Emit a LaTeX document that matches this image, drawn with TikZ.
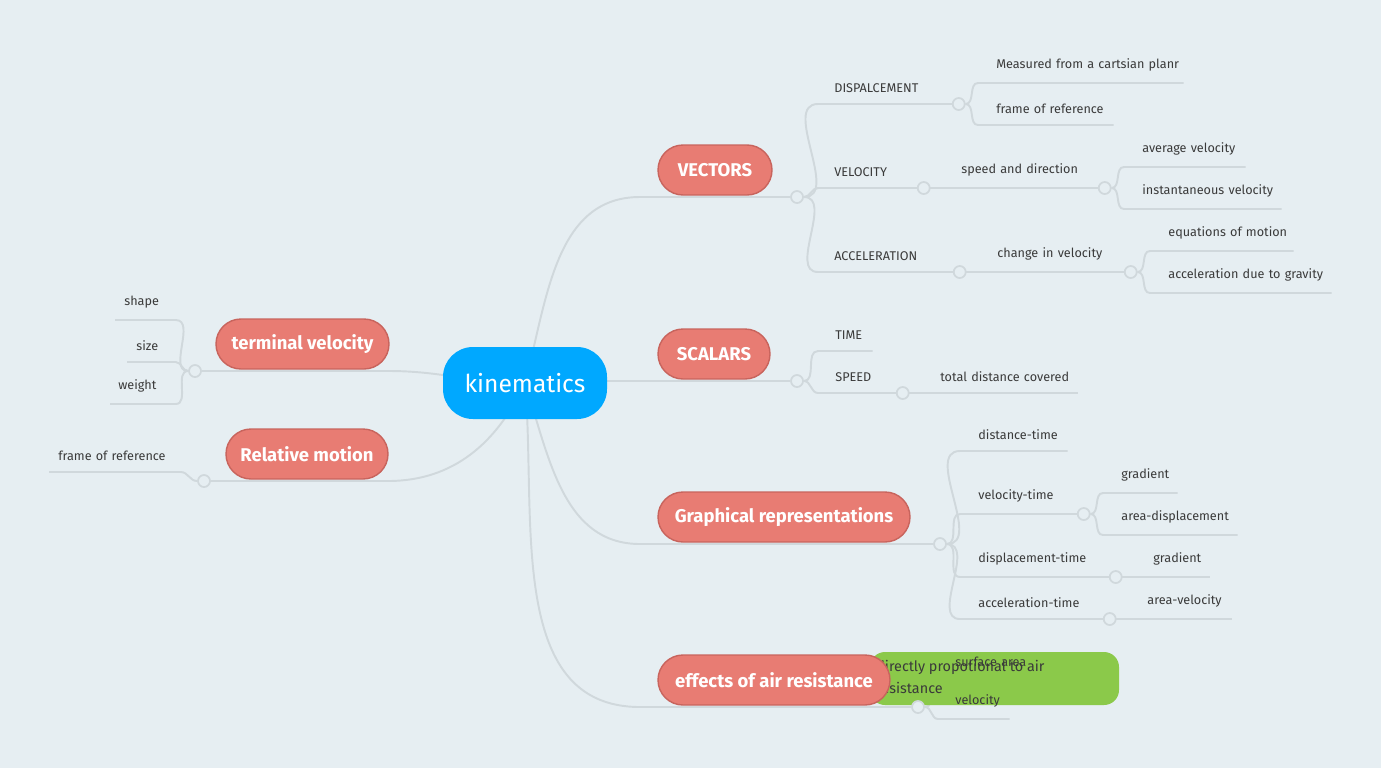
\documentclass[tikz,border=0pt]{standalone}
\usepackage{fontspec}
\setmainfont{Fira Sans}
\usetikzlibrary{positioning,backgrounds}
\definecolor{bgcol}{HTML}{E6EEF2}
\definecolor{linecol}{HTML}{D0D8DC}
\definecolor{redfill}{HTML}{E87C73}
\definecolor{redline}{HTML}{C8645D}
\definecolor{bluefill}{HTML}{00A8FF}
\definecolor{greenfill}{HTML}{8BC94A}
\definecolor{txtcol}{HTML}{3A3A3A}
\newdimen\px \px=0.02cm
\tikzset{
  branch/.style = {draw=linecol, line width=1.1pt},
  junc/.style = {circle, draw=linecol, fill=bgcol, line width=1pt, minimum size=12\px, inner sep=0},
  topic/.style = {draw=redline, fill=redfill, line width=0.8pt, rounded corners=0.5cm, text=white,
                  font=\fontsize{10.5}{12}\selectfont\bfseries, minimum height=50\px},
  leaf/.style = {anchor=south west, inner xsep=0, inner ysep=6.5pt, align=left, text=txtcol,
                 font=\fontsize{7.2}{8.5}\selectfont}
}
% name, line start x, line y, line end x, text x, text
\newcommand{\leaf}[6]{\node[leaf, text width=\the\dimexpr#4\px-#2\px\relax] (#1) at (#2,#3)
  {\hspace*{\the\dimexpr#5\px-#2\px\relax}\mbox{#6}};}
\begin{document}
\begin{tikzpicture}[x=0.02cm, y=-0.02cm]
  \useasboundingbox (0,0) rectangle (1381,768);

  % leaves
  \leaf{disp}{818}{104}{958}{834}{DISPALCEMENT}
  \leaf{vel}{818}{188}{923}{834}{VELOCITY}
  \leaf{acc}{818}{272}{959}{834}{ACCELERATION}
  \leaf{meas}{978}{83}{1183}{996}{Measured from a cartsian planr}
  \leaf{frame}{978}{125}{1113}{996}{frame of reference}
  \leaf{speeddir}{924}{188}{1104}{961}{speed and direction}
  \leaf{avg}{1124}{167}{1245}{1142}{average velocity}
  \leaf{inst}{1124}{209}{1281}{1142}{instantaneous velocity}
  \leaf{change}{960}{272}{1130}{997}{change in velocity}
  \leaf{eqn}{1150}{251}{1293}{1168}{equations of motion}
  \leaf{grav}{1150}{293}{1331}{1168}{acceleration due to gravity}
  \leaf{time}{818}{351}{872}{835}{TIME}
  \leaf{speed}{818}{393}{902}{835}{SPEED}
  \leaf{total}{903}{393}{1077}{940}{total distance covered}
  \leaf{dt}{960}{451}{1067}{978}{distance-time}
  \leaf{vt}{960}{514}{1083}{978}{velocity-time}
  \leaf{grad}{1103}{493}{1177}{1121}{gradient}
  \leaf{area}{1103}{535}{1237}{1121}{area-displacement}
  \leaf{disptime}{960}{577}{1115}{978}{displacement-time}
  \leaf{grad2}{1116}{577}{1209}{1153}{gradient}
  \leaf{acct}{960}{619}{1109}{978}{acceleration-time}
  \leaf{areav}{1110}{619}{1231}{1147}{area-velocity}
  \leaf{shape}{115}{320}{175}{124}{shape}
  \leaf{size}{127}{362}{175}{136}{size}
  \leaf{weight}{110}{404}{175}{118}{weight}
  \leaf{relframe}{49}{472}{180}{58}{frame of reference}

  % green note behind the red topic
  \node[fill=greenfill, rounded corners=0.3cm, minimum width=249\px, minimum height=53\px] (note) at (994.5,678.5) {};
  \node[anchor=north west, align=left, text=txtcol, inner sep=0, font=\fontsize{8.2}{12.5}\selectfont]
    (notetext) at (876,660) {directly propotional to air\\resistance};
  \leaf{surf}{938}{678}{1030}{955}{surface area}
  \leaf{velo}{938}{719}{1009}{955}{velocity}

  % central topic and main topics
  \node[fill=bluefill, rounded corners=0.6cm, minimum width=164\px, minimum height=72\px, text=white,
        font=\fontsize{14}{16}\selectfont] (kin) at (525,383) {kinematics};
  \node[topic, minimum width=114\px] (vectors) at (715,170) {VECTORS};
  \node[topic, minimum width=112\px] (scalars) at (714,354) {SCALARS};
  \node[topic, minimum width=252\px] (graph) at (784,517) {Graphical representations};
  \node[topic, minimum width=232\px] (air) at (774,680) {effects of air resistance};
  \node[topic, minimum width=173\px] (term) at (302.5,344) {terminal velocity};
  \node[topic, minimum width=162\px] (rel) at (307,454) {Relative motion};

  % junctions
  \node[junc] (jV) at (797,197) {};
  \node[junc] (jS) at (797,381) {};
  \node[junc] (jG) at (940,544) {};
  \node[junc] (jA) at (918,707) {};
  \node[junc] (jT) at (195,371) {};
  \node[junc] (jR) at (204,481) {};
  \node[junc] (jD) at (disp.south east) {};
  \node[junc] (jVe) at (vel.south east) {};
  \node[junc] (jAc) at (acc.south east) {};
  \node[junc] (jSd) at (speeddir.south east) {};
  \node[junc] (jCh) at (change.south east) {};
  \node[junc] (jSp) at (speed.south east) {};
  \node[junc] (jVt) at (vt.south east) {};
  \node[junc] (jDt) at (disptime.south east) {};
  \node[junc] (jAt) at (acct.south east) {};

  \begin{scope}[on background layer]
    \fill[bgcol] (0,0) rectangle (1381,768);
    \draw[branch] (kin.center) to[out=75,in=180] (640,197) -- (jV);
    \draw[branch] (kin.center |- jS) -- (jS);
    \draw[branch] (kin.center) to[out=-72,in=180] (640,544) -- (jG);
    \draw[branch] (kin.center) to[out=-85,in=180] (640,707) -- (jA);
    \draw[branch] (kin.center) to[out=180,in=0] (389,371) -- (jT);
    \draw[branch] (kin.center) to[out=-115,in=0] (388,481) -- (jR);
    \foreach \j/\l in {jV/disp, jV/vel, jV/acc, jD/meas, jD/frame, jVe/speeddir, jSd/avg, jSd/inst,
                       jAc/change, jCh/eqn, jCh/grav, jS/time, jS/speed, jSp/total, jG/dt, jG/vt,
                       jVt/grad, jVt/area, jG/disptime, jDt/grad2, jG/acct, jAt/areav, jA/surf, jA/velo}
      \draw[branch] (\j) to[out=0,in=180] (\l.south west) -- (\l.south east);
    \foreach \l in {shape, size, weight}
      \draw[branch] (jT) to[out=180,in=0] (\l.south east) -- (\l.south west);
    \draw[branch] (jR) to[out=180,in=0] (relframe.south east) -- (relframe.south west);
  \end{scope}
\end{tikzpicture}
\end{document}
